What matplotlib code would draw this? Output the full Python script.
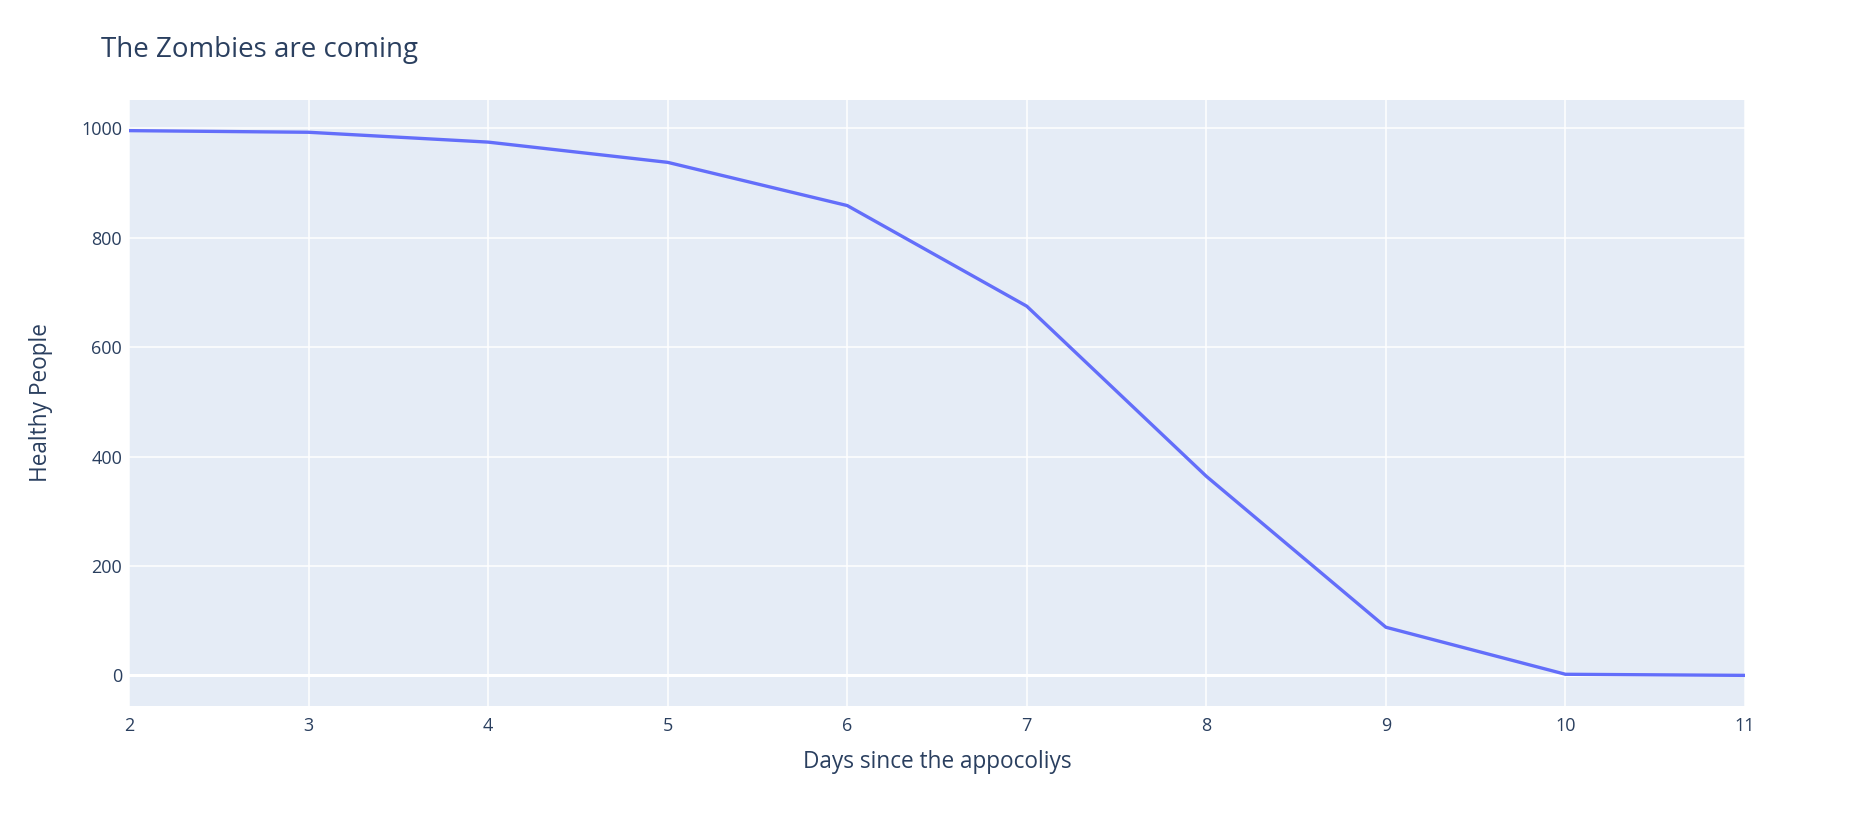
import matplotlib.pyplot as plt

days = [2, 3, 4, 5, 6, 7, 8, 9, 10, 11]
healthy = [996, 993, 975, 938, 859, 675, 364, 88, 2, 0]
yticks = [0, 200, 400, 600, 800, 1000]

text_col = '#2a3f5f'
plt.rcParams['font.family'] = ['Open Sans', 'DejaVu Sans']

fig = plt.figure(figsize=(18.52, 8.17), dpi=100)
ax = fig.add_axes([129 / 1852, 1 - 706 / 817, (1745 - 129) / 1852, (706 - 100) / 817])
ax.set_facecolor('#E5ECF6')
for s in ax.spines.values():
    s.set_visible(False)

ax.plot(days, healthy, color='#636efa', linewidth=2.4, zorder=3)

ax.set_xlim(2, 11)
ax.set_ylim(-56, 1052)
ax.set_xticks(days)
ax.set_yticks(yticks)
ax.grid(True, color='white', linewidth=1.1, zorder=1)
ax.axhline(0, color='white', linewidth=2.2, zorder=2)
ax.set_axisbelow(True)
ax.tick_params(length=0, labelsize=13, colors=text_col)
ax.tick_params(axis='x', pad=8)
ax.tick_params(axis='y', pad=5)

ax.set_xlabel('Days since the appocoliys', fontsize=16.3, color=text_col, labelpad=11)
ax.set_ylabel('Healthy People', fontsize=16.3, color=text_col, labelpad=20)
fig.text(101 / 1852, 1 - 50 / 817, 'The Zombies are coming', fontsize=20,
         color=text_col, va='center', ha='left')

fig.savefig('out.png', dpi=100)
